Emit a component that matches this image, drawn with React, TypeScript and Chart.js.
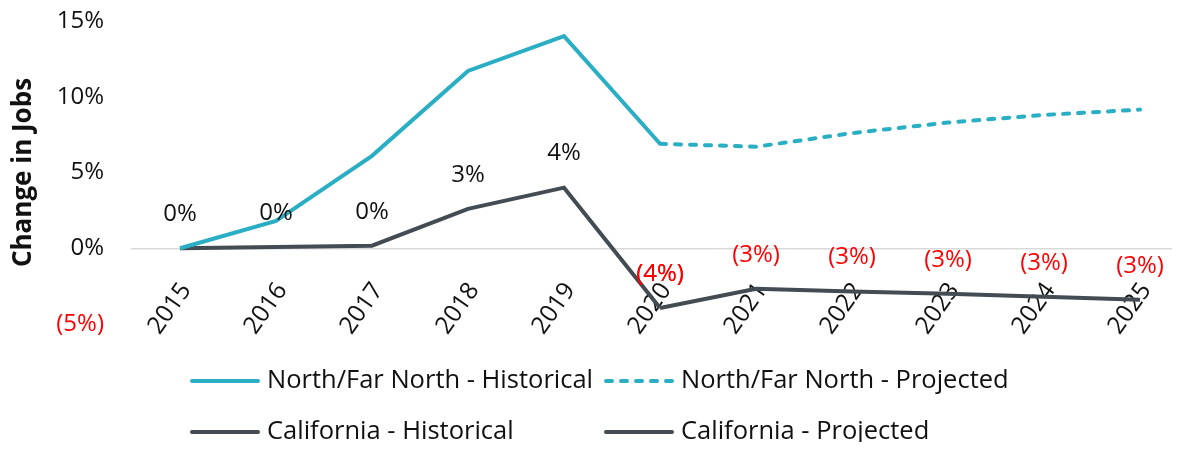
import React, { useEffect, useRef } from "react";
import { Chart, registerables } from "chart.js";

Chart.register(...registerables);

const years = [2015, 2016, 2017, 2018, 2019, 2020, 2021, 2022, 2023, 2024, 2025];
const northHistorical = [0, 1.8, 6.1, 11.7, 14.0, 6.9, null, null, null, null, null];
const northProjected = [null, null, null, null, null, 6.9, 6.7, 7.6, 8.3, 8.8, 9.15];
const caHistorical = [0, 0.08, 0.17, 2.6, 4.0, -3.94, null, null, null, null, null];
const caProjected = [null, null, null, null, null, -3.94, -2.68, -2.85, -3.0, -3.2, -3.4];
const yTicks = [-5, 0, 5, 10, 15];
const seriesNames = [
  "North/Far North - Historical",
  "North/Far North - Projected",
  "California - Historical",
  "California - Projected",
];
const yTitle = "Change in Jobs";

const TEAL = "#2AAEC3";
const GRAY = "#434B53";
const RED = "#FF0000";
const TEXT = "#111111";
const FONT = "'Open Sans', 'Noto Sans', sans-serif";

const pct = (v: number) => {
  const r = Math.round(Math.abs(v));
  return v < 0 && r !== 0 ? `(${r}%)` : `${r}%`;
};

const toPoints = (arr: (number | null)[]) => years.map((x, i) => ({ x, y: arr[i] }));

const dataLabelPlugin = {
  id: "caLabels",
  afterDatasetsDraw(chart: any) {
    const ctx = chart.ctx;
    chart.data.datasets.forEach((ds: any, di: number) => {
      if (!ds.showLabels) return;
      const meta = chart.getDatasetMeta(di);
      meta.data.forEach((el: any, i: number) => {
        const v = ds.data[i].y;
        if (v === null || v === undefined) return;
        ctx.save();
        ctx.font = `24px ${FONT}`;
        ctx.fillStyle = Math.round(v) < 0 ? RED : TEXT;
        ctx.textAlign = "center";
        ctx.textBaseline = "middle";
        ctx.fillText(pct(v), el.x, el.y - 34);
        ctx.restore();
      });
    });
  },
};

const gridLegendPlugin = {
  id: "gridLegend",
  afterDraw(chart: any) {
    const ctx = chart.ctx;
    const colX = [182, 596];
    const rowY = [chart.chartArea.bottom + 57, chart.chartArea.bottom + 108];
    const lineLen = 70;
    chart.data.datasets.forEach((ds: any, i: number) => {
      const col = i % 2;
      const row = Math.floor(i / 2);
      const x = colX[col];
      const y = rowY[row];
      ctx.save();
      ctx.strokeStyle = ds.borderColor;
      ctx.lineWidth = 4;
      ctx.lineCap = "round";
      ctx.setLineDash(ds.borderDash || []);
      ctx.beginPath();
      ctx.moveTo(x + 2, y);
      ctx.lineTo(x + lineLen - 2, y);
      ctx.stroke();
      ctx.setLineDash([]);
      ctx.font = `25.5px ${FONT}`;
      ctx.fillStyle = TEXT;
      ctx.textAlign = "left";
      ctx.textBaseline = "middle";
      ctx.fillText(ds.label, x + lineLen + 7, y);
      ctx.restore();
    });
  },
};

export default function App() {
  const ref = useRef<HTMLCanvasElement>(null);

  useEffect(() => {
    if (!ref.current) return;
    Chart.defaults.font.family = FONT;
    const common = {
      pointRadius: 0,
      pointHoverRadius: 0,
      borderWidth: 4,
      tension: 0,
      fill: false,
      spanGaps: false,
      borderCapStyle: "round" as const,
      borderJoinStyle: "miter" as const,
    };
    const chart = new Chart(ref.current, {
      type: "line",
      data: {
        datasets: [
          { ...common, label: seriesNames[0], data: toPoints(northHistorical), borderColor: TEAL, backgroundColor: TEAL, borderCapStyle: "butt" },
          { ...common, label: seriesNames[1], data: toPoints(northProjected), borderColor: TEAL, backgroundColor: TEAL, borderDash: [6, 9] },
          { ...common, label: seriesNames[2], data: toPoints(caHistorical), borderColor: GRAY, backgroundColor: GRAY, showLabels: true, borderCapStyle: "butt" },
          { ...common, label: seriesNames[3], data: toPoints(caProjected), borderColor: GRAY, backgroundColor: GRAY, showLabels: true, borderCapStyle: "butt" },
        ] as any,
      },
      options: {
        animation: false,
        responsive: true,
        maintainAspectRatio: false,
        layout: { padding: { top: 13, bottom: 118, left: 0, right: 0 } },
        plugins: {
          legend: { display: false },
          tooltip: { enabled: false },
        },
        scales: {
          x: {
            type: "linear",
            min: 2014.5,
            max: 2025.333,
            position: { y: 0 } as any,
            grid: { display: false },
            border: { display: true, color: "#D9D9D9", width: 1.5 },
            afterBuildTicks: (s: any) => {
              s.ticks = years.map((v) => ({ value: v }));
            },
            afterFit: (s: any) => {
              s.paddingLeft = 0;
              s.paddingRight = 0;
              s.paddingTop = 0;
              s.paddingBottom = 0;
            },
            ticks: {
              autoSkip: false,
              minRotation: 55,
              maxRotation: 55,
              padding: 21,
              labelOffset: 6,
              color: TEXT,
              font: { size: 24.5 },
              callback: (v: any) => String(v),
            },
          },
          y: {
            type: "linear",
            min: -5,
            max: 15,
            grid: { display: false },
            border: { display: false },
            afterBuildTicks: (s: any) => {
              s.ticks = yTicks.map((v) => ({ value: v }));
            },
            afterFit: (s: any) => {
              s.width = 124;
              s.paddingTop = 0;
              s.paddingBottom = 0;
            },
            ticks: {
              padding: 20,
              font: { size: 24 },
              color: (c: any) => (c.tick && c.tick.value < 0 ? RED : TEXT),
              callback: (v: any) => pct(Number(v)),
            },
            title: {
              display: true,
              text: yTitle,
              color: TEXT,
              font: { size: 26, weight: "bold" },
              padding: { top: 0, bottom: 0 },
            },
          },
        },
      },
      plugins: [dataLabelPlugin, gridLegendPlugin],
    });
    return () => chart.destroy();
  }, []);

  return (
    <div style={{ position: "relative", width: 1164, height: 434 }}>
      <canvas ref={ref} />
    </div>
  );
}
